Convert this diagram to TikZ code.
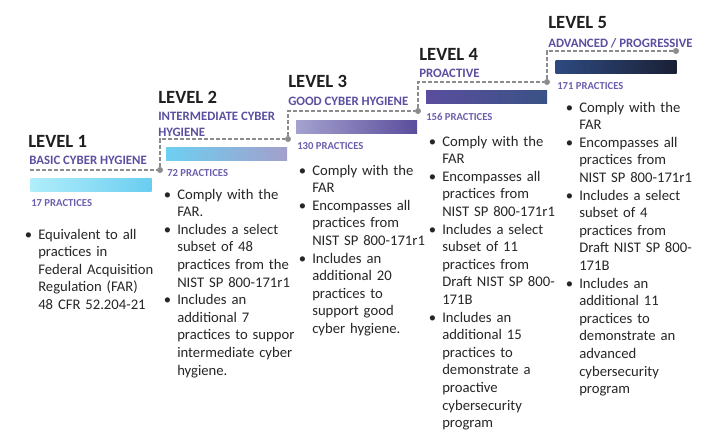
\documentclass[tikz,border=0pt]{standalone}
\usepackage{fontspec}
\setmainfont{Carlito}
\usetikzlibrary{positioning}
\definecolor{levelblack}{HTML}{1F1F1F}
\definecolor{listgray}{HTML}{262626}
\definecolor{tlpurple}{HTML}{5A4FA0}
\definecolor{pracpurple}{HTML}{6A5FAE}
\definecolor{stepgray}{HTML}{8C8C8C}
\newcommand{\fitem}{\leftskip=7.5pt\noindent\llap{\textbullet\hspace{4.5pt}}}
\newcommand{\litem}{\par\fitem}

\begin{document}
\begin{tikzpicture}[x=0.75pt,y=-0.75pt]
  \useasboundingbox (0,0) rectangle (711,440);

  \tikzstyle{LevelStyle}=[anchor=base west,inner sep=0pt,text=levelblack,
    font=\bfseries\fontsize{14}{16}\selectfont]
  \tikzstyle{TagStyle}=[anchor=base west,inner sep=0pt,text=tlpurple,align=left,
    font=\bfseries\fontsize{9.6}{11.6}\selectfont]
  \tikzstyle{PracStyle}=[anchor=base west,inner sep=0pt,text=pracpurple,
    font=\bfseries\fontsize{8}{9}\selectfont]
  \tikzstyle{ListStyle}=[anchor=base west,inner sep=0pt,text=listgray,
    text width=115pt,align=left,font=\fontsize{11}{13.2}\selectfont]
  \tikzstyle{BarStyle}=[rectangle,inner sep=0pt,minimum width=90.75pt,minimum height=9.75pt]
  \tikzstyle{DotStyle}=[circle,fill=stepgray,inner sep=0pt,minimum size=4.5pt]
  \tikzstyle{StepStyle}=[draw=stepgray,line width=1.5pt,dash pattern=on 3pt off 1.5pt]

  % levels
  \node[LevelStyle] (lev1) at (28,147) {LEVEL 1};
  \node[TagStyle]   (tag1) at (29,164) {BASIC CYBER HYGIENE};
  \node[LevelStyle] (lev2) at (158,103) {LEVEL 2};
  \node[TagStyle]   (tag2) at (158,136) {INTERMEDIATE CYBER\\HYGIENE};
  \node[LevelStyle] (lev3) at (288,87) {LEVEL 3};
  \node[TagStyle]   (tag3) at (288,105) {GOOD CYBER HYGIENE};
  \node[LevelStyle] (lev4) at (419,60) {LEVEL 4};
  \node[TagStyle]   (tag4) at (419,77) {PROACTIVE};
  \node[LevelStyle] (lev5) at (548,28) {LEVEL 5};
  \node[TagStyle]   (tag5) at (548,47) {ADVANCED / PROGRESSIVE};

  % steps
  \coordinate (s1) at (30,170);
  \node[DotStyle] (d1) at (160,170) {};
  \node[DotStyle] (d2) at (288,139) {};
  \node[DotStyle] (d3) at (418,111) {};
  \node[DotStyle] (d4) at (547,82) {};
  \node[DotStyle] (d5) at (676,51) {};
  \draw[StepStyle] (s1) -- (d1) |- (d2);
  \draw[StepStyle] (d2) |- (d3);
  \draw[StepStyle] (d3) |- (d4);
  \draw[StepStyle] (d4) |- (d5);

  % bars
  \node[BarStyle,left color={rgb,255:red,176;green,238;blue,251},right color={rgb,255:red,106;green,205;blue,240}] (bar1) at (91,184.5) {};
  \node[BarStyle,left color={rgb,255:red,109;green,207;blue,241},right color={rgb,255:red,163;green,159;blue,203}] (bar2) at (226.5,154) {};
  \node[BarStyle,left color={rgb,255:red,165;green,162;blue,207},right color={rgb,255:red,90;green,77;blue,156}] (bar3) at (356.5,126.5) {};
  \node[BarStyle,left color={rgb,255:red,90;green,78;blue,158},right color={rgb,255:red,58;green,82;blue,133}] (bar4) at (486.5,96.5) {};
  \node[BarStyle,left color={rgb,255:red,46;green,74;blue,128},middle color={rgb,255:red,58;green,85;blue,144},right color={rgb,255:red,26;green,32;blue,53}] (bar5) at (616,66.5) {};

  % practices
  \node[PracStyle] (prac1) at (31,206) {17 PRACTICES};
  \node[PracStyle] (prac2) at (167,176) {72 PRACTICES};
  \node[PracStyle] (prac3) at (297,149) {130 PRACTICES};
  \node[PracStyle] (prac4) at (426,120) {156 PRACTICES};
  \node[PracStyle] (prac5) at (557,89) {171 PRACTICES};

  % lists
  \node[ListStyle] (list1) at (28,239) {\fitem Equivalent to all\\practices in\\Federal Acquisition\\Regulation (FAR)\\48 CFR 52.204-21\par};
  \node[ListStyle] (list2) at (167,199) {\fitem Comply with the\\FAR.
    \litem Includes a select\\subset of 48\\practices from the\\NIST SP 800-171r1
    \litem Includes an\\additional 7\\practices to suppor\\intermediate cyber\\hygiene.\par};
  \node[ListStyle] (list3) at (302,175) {\fitem Comply with the\\FAR
    \litem Encompasses all\\practices from\\NIST SP 800-171r1
    \litem Includes an\\additional 20\\practices to\\support good\\cyber hygiene.\par};
  \node[ListStyle] (list4) at (432,146) {\fitem Comply with the\\FAR
    \litem Encompasses all\\practices from\\NIST SP 800-171r1
    \litem Includes a select\\subset of 11\\practices from\\Draft NIST SP 800-\\171B
    \litem Includes an\\additional 15\\practices to\\demonstrate a\\proactive\\cybersecurity\\program\par};
  \node[ListStyle] (list5) at (569,112) {\fitem Comply with the\\FAR
    \litem Encompasses all\\practices from\\NIST SP 800-171r1
    \litem Includes a select\\subset of 4\\practices from\\Draft NIST SP 800-\\171B
    \litem Includes an\\additional 11\\practices to\\demonstrate an\\advanced\\cybersecurity\\program\par};
\end{tikzpicture}
\end{document}
